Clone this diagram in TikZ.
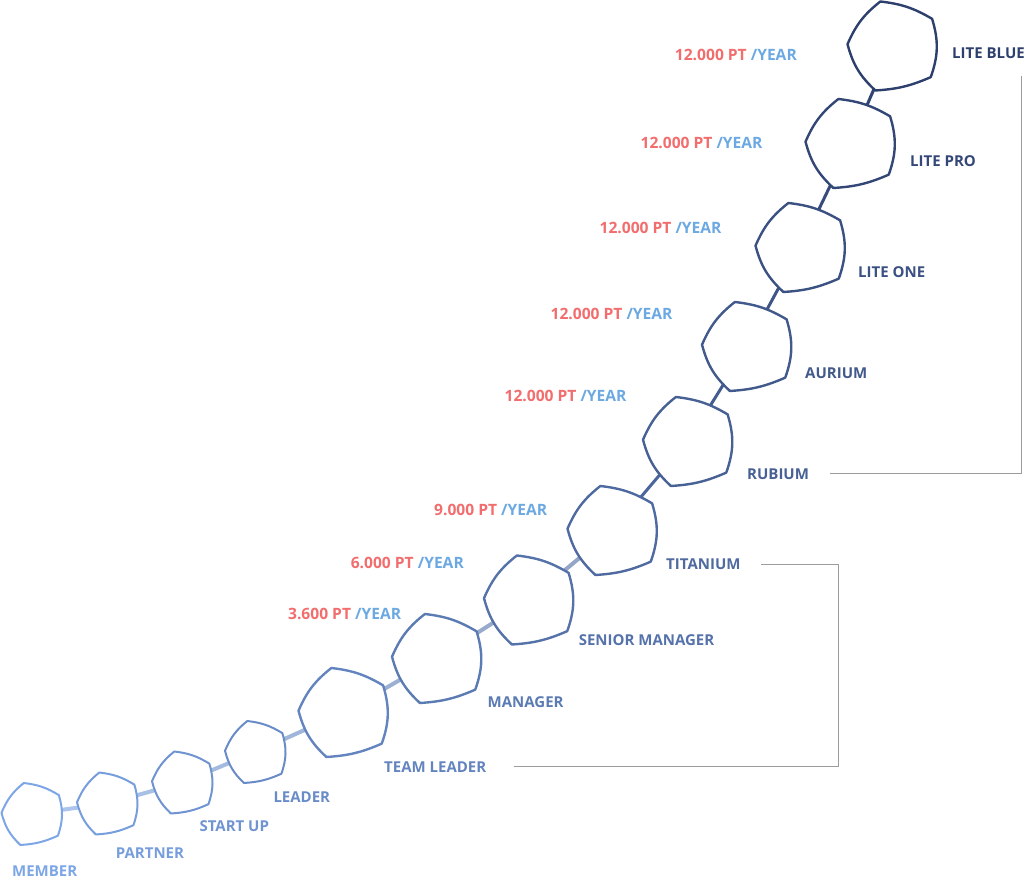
\documentclass[tikz,border=0pt]{standalone}
\usepackage{fontspec}
\setmainfont{Open Sans}
\usetikzlibrary{calc}
\definecolor{gemlow}{HTML}{7DA6E6}
\definecolor{gemtop}{HTML}{2D3F6D}
\definecolor{pricered}{HTML}{F26D6D}
\definecolor{peryear}{HTML}{6CA9E2}
\definecolor{rulegray}{HTML}{9C9C9C}

\begin{document}
\begin{tikzpicture}[x=1pt, y=1pt, font=\bfseries\fontsize{15}{18}\selectfont,
  gem/.pic={\draw[fill=white, line join=round] (-0.27,1) to[bend left=12] (0.88,0.61) to[bend left=18] (0.85,-0.7) to[bend left=10] (-0.38,-1) to[bend left=16] (-1,0.04) to[bend left=14] (-0.27,1) -- cycle;},
  gembig/.style={xscale=45, yscale=44.5, line width=2.4pt},
  gemsmall/.style={xscale=30.5, yscale=31, line width=2pt},
  tone/.style={color=gemtop!#1!gemlow},
  link/.style={line width=3pt},
  palelink/.style={line width=4pt, draw opacity=0.62},
  lbl/.style={anchor=west, inner sep=0pt, text height=10.7pt, text depth=0pt},
  price/.style={anchor=east, inner sep=0pt, font=\bfseries\fontsize{15.6}{18}\selectfont, text height=11.1pt, text depth=0pt, text=pricered},
  bracket/.style={draw=rulegray, line width=1pt}]

  \useasboundingbox (0,0) rectangle (1024,880);

  \coordinate (gmem) at (32,66);
  \coordinate (gpar) at (107.5,76.5);
  \coordinate (gsta) at (182.5,97.5);
  \coordinate (glea) at (255.5,128);
  \coordinate (gtea) at (343.5,167.5);
  \coordinate (gman) at (437,221.5);
  \coordinate (gsen) at (529,280);
  \coordinate (gtit) at (612.5,349.5);
  \coordinate (grub) at (688,438.5);
  \coordinate (gaur) at (747,533.5);
  \coordinate (gone) at (800.5,632.5);
  \coordinate (gpro) at (850.5,736.5);
  \coordinate (gblue) at (892.5,834);

  % links first, the white gems cover their ends
  \draw[palelink, tone=4] (gmem) -- (gpar);
  \draw[palelink, tone=12] (gpar) -- (gsta);
  \draw[palelink, tone=21] (gsta) -- (glea);
  \draw[palelink, tone=29] (glea) -- (gtea);
  \draw[palelink, tone=38] (gtea) -- (gman);
  \draw[palelink, tone=46] (gman) -- (gsen);
  \draw[palelink, tone=54] (gsen) -- (gtit);
  \draw[link, tone=62] (gtit) -- (grub);
  \draw[link, tone=71] (grub) -- (gaur);
  \draw[link, tone=79] (gaur) -- (gone);
  \draw[link, tone=88] (gone) -- (gpro);
  \draw[link, tone=96] (gpro) -- (gblue);

  \pic[gemsmall, tone=0] at (gmem) {gem};
  \pic[gemsmall, tone=8] at (gpar) {gem};
  \pic[gemsmall, tone=17] at (gsta) {gem};
  \pic[gemsmall, tone=25] at (glea) {gem};
  \pic[gembig, tone=33] at (gtea) {gem};
  \pic[gembig, tone=42] at (gman) {gem};
  \pic[gembig, tone=50] at (gsen) {gem};
  \pic[gembig, tone=58] at (gtit) {gem};
  \pic[gembig, tone=67] at (grub) {gem};
  \pic[gembig, tone=75] at (gaur) {gem};
  \pic[gembig, tone=83] at (gone) {gem};
  \pic[gembig, tone=92] at (gpro) {gem};
  \pic[gembig, tone=100] at (gblue) {gem};

  \node[lbl, tone=0] (lmem) at ([xshift=-20pt, yshift=-57.6pt]gmem) {MEMBER};
  \node[lbl, tone=8] (lpar) at ([xshift=8.2pt, yshift=-49.2pt]gpar) {PARTNER};
  \node[lbl, tone=17] (lsta) at ([xshift=16.8pt, yshift=-43.5pt]gsta) {START UP};
  \node[lbl, tone=25] (llea) at ([xshift=17.8pt, yshift=-44.7pt]glea) {LEADER};
  \node[lbl, tone=33] (lteam) at ([xshift=40.5pt, yshift=-54.2pt]gtea) {TEAM LEADER};
  \node[lbl, tone=42] (lman) at ([xshift=50.5pt, yshift=-43.2pt]gman) {MANAGER};
  \node[lbl, tone=50] (lsen) at ([xshift=49.6pt, yshift=-40pt]gsen) {SENIOR MANAGER};
  \node[lbl, tone=58] (ltit) at ([xshift=53.5pt, yshift=-33.8pt]gtit) {TITANIUM};
  \node[lbl, tone=67] (lrub) at ([xshift=59pt, yshift=-32.5pt]grub) {RUBIUM};
  \node[lbl, tone=75] (laur) at ([xshift=58pt, yshift=-26.5pt]gaur) {AURIUM};
  \node[lbl, tone=83] (lone) at ([xshift=57.5pt, yshift=-24.5pt]gone) {LITE ONE};
  \node[lbl, tone=92] (lpro) at ([xshift=59.5pt, yshift=-17.5pt]gpro) {LITE PRO};
  \node[lbl, tone=100] (lblue) at ([xshift=59.5pt, yshift=-6.7pt]gblue) {LITE BLUE};

  \node[price] (pblue) at ([xshift=-95.5pt, yshift=-9pt]gblue) {12.000 PT \textcolor{peryear}{/YEAR}};
  \node[price] (ppro) at ([xshift=-87.8pt, yshift=0.2pt]gpro) {12.000 PT \textcolor{peryear}{/YEAR}};
  \node[price] (pone) at ([xshift=-78.8pt, yshift=19.2pt]gone) {12.000 PT \textcolor{peryear}{/YEAR}};
  \node[price] (paur) at ([xshift=-74.3pt, yshift=32.5pt]gaur) {12.000 PT \textcolor{peryear}{/YEAR}};
  \node[price] (prub) at ([xshift=-61.3pt, yshift=45.5pt]grub) {12.000 PT \textcolor{peryear}{/YEAR}};
  \node[price] (ptit) at ([xshift=-65.1pt, yshift=20.5pt]gtit) {9.000 PT \textcolor{peryear}{/YEAR}};
  \node[price] (psen) at ([xshift=-65pt, yshift=36.7pt]gsen) {6.000 PT \textcolor{peryear}{/YEAR}};
  \node[price] (pman) at ([xshift=-35.7pt, yshift=44.5pt]gman) {3.600 PT \textcolor{peryear}{/YEAR}};

  \coordinate (rtop) at (1021,804);
  \coordinate (rmid) at (838,300);
  \draw[bracket] ([xshift=21pt]lrub.east) -| (rtop);
  \draw[bracket] ([xshift=20pt]ltit.east) -| (rmid) |- ([xshift=27pt]lteam.east);

\end{tikzpicture}
\end{document}
